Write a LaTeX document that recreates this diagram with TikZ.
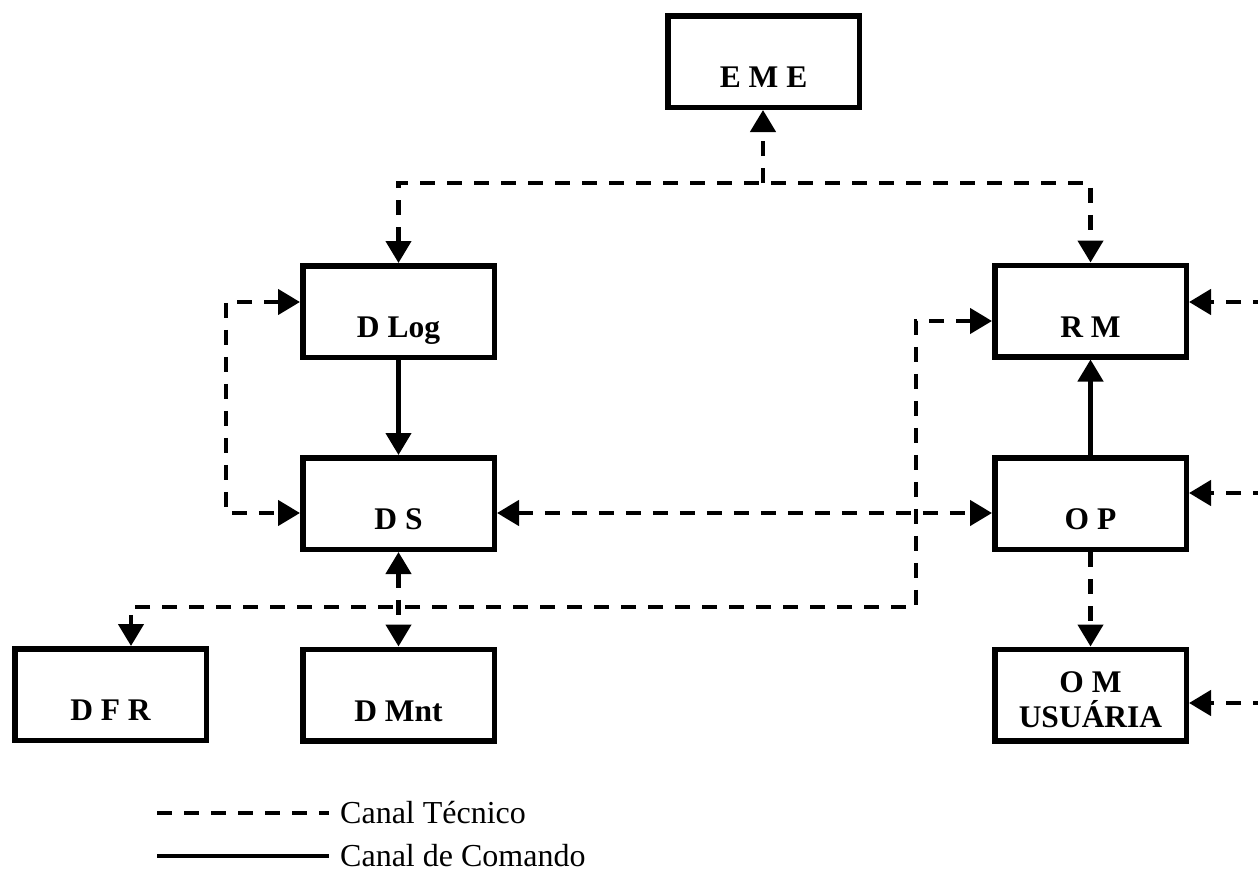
\documentclass[tikz,border=0pt]{standalone}
\usepackage{fontspec}
\setmainfont{Liberation Serif}
\usetikzlibrary{arrows.meta}
\begin{document}
\begin{tikzpicture}[x=1pt,y=-1pt,
  >={Triangle[length=22pt,width=25pt]},
  box/.style={draw, line width=5.5pt, minimum width=191.5pt, minimum height=91.5pt, inner sep=0pt},
  lbl/.style={font=\fontsize{31.5}{35}\selectfont\bfseries, inner sep=0pt, anchor=base},
  leg/.style={font=\fontsize{32}{36}\selectfont, inner sep=0pt, anchor=base west},
  tech/.style={line width=4.5pt, dash pattern=on 15pt off 12pt},
  cmd/.style={line width=4.5pt}]
\useasboundingbox (0,0) rectangle (1258,894);
% boxes
\node[box] (eme)  at (763.5,61.5) {};
\node[box] (dlog) at (398.5,311.5) {};
\node[box] (ds)   at (398.5,503.5) {};
\node[box] (dfr)  at (110.5,694.5) {};
\node[box] (dmnt) at (398.5,695) {};
\node[box] (rm)   at (1090.5,311) {};
\node[box] (op)   at (1090.5,503.5) {};
\node[box] (om)   at (1090.5,695) {};
% labels
\node[lbl] (emeT)  at ([yshift=-26pt]eme.center) {E M E};
\node[lbl] (dlogT) at ([yshift=-26pt]dlog.center) {D Log};
\node[lbl] (dsT)   at ([yshift=-26pt]ds.center) {D S};
\node[lbl] (dfrT)  at ([yshift=-26pt]dfr.center) {D F R};
\node[lbl] (dmntT) at ([yshift=-26pt]dmnt.center) {D Mnt};
\node[lbl] (rmT)   at ([yshift=-26pt]rm.center) {R M};
\node[lbl] (opT)   at ([yshift=-26pt]op.center) {O P};
\node[lbl, anchor=center, align=center] (omT) at ([yshift=-4.5pt]om.center) {O M\\USUÁRIA};
% junctions
\coordinate (j1) at (763,183);
\coordinate (lx) at (226,400);
\coordinate (c2) at (916,607);
\coordinate (e1) at (1268,302);
\coordinate (e2) at (1268,493);
\coordinate (e3) at (1268,703);
% technical channels
\draw[tech,<->] (dlog.north) -- (dlog.north |- j1) -| (rm.north);
\draw[tech,->] (j1) -- (eme.south -| j1);
\draw[tech,<->] ([yshift=9.5pt]dlog.west) -| (lx) |- ([yshift=-9.5pt]ds.west);
\draw[tech,<->] ([yshift=-9.5pt]ds.east) -- ([yshift=-9.5pt]op.west);
\draw[tech,<->] ([yshift=-10pt]rm.west) -| (c2) -| ([xshift=20.5pt]dfr.north);
\draw[tech,<->] (ds.south) -- (dmnt.north);
\draw[tech,->] (op.south) -- (om.north);
\draw[tech,->] (e1) -- ([yshift=9pt]rm.east);
\draw[tech,->] (e2) -- ([yshift=10.5pt]op.east);
\draw[tech,->] (e3) -- ([yshift=-8pt]om.east);
% command channels
\draw[cmd,->] (dlog.south) -- (ds.north);
\draw[cmd,->] (op.north) -- (rm.south);
% legend
\coordinate (l1a) at (157,813);
\coordinate (l1b) at (329,813);
\coordinate (l2a) at (157,856);
\coordinate (l2b) at (329,856);
\draw[tech] (l1a) -- (l1b);
\draw[cmd] (l2a) -- (l2b);
\node[leg] (legT) at (340,823) {Canal Técnico};
\node[leg] (legC) at (340,866) {Canal de Comando};
\end{tikzpicture}
\end{document}
